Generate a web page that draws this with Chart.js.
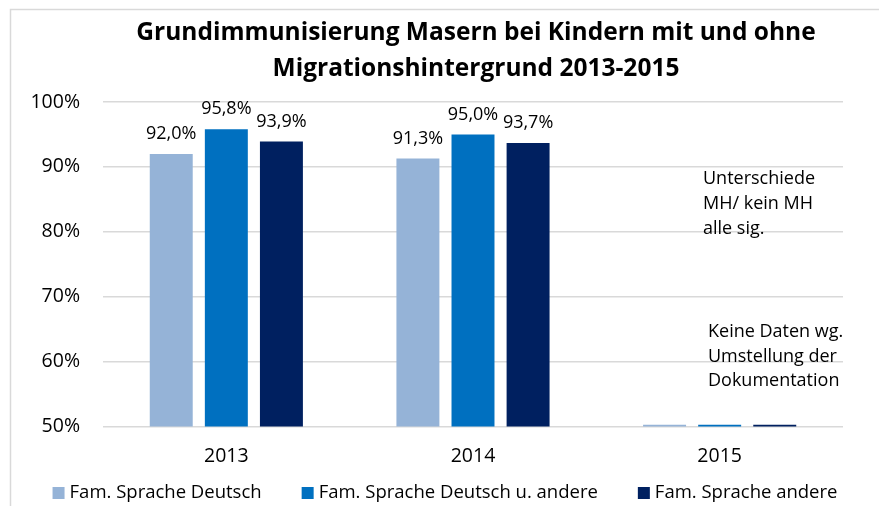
<!DOCTYPE html>
<html><head><meta charset="utf-8">
<script src="https://cdn.jsdelivr.net/npm/chart.js@4"></script>
<style>html,body{margin:0;padding:0;background:#fff}#wrap{width:879px;height:506px;position:relative}</style>
</head><body><div id="wrap"><canvas id="c" width="879" height="506"></canvas></div>
<script>
const categories = ["2013", "2014", "2015"];
const seriesNames = ["Fam. Sprache Deutsch", "Fam. Sprache Deutsch u. andere", "Fam. Sprache andere"];
const famDeutsch = [92.0, 91.3, 50.3];
const famDeutschAndere = [95.8, 95.0, 50.3];
const famAndere = [93.9, 93.7, 50.3];
const showLabel = [true, true, false];
const yTicks = [50, 60, 70, 80, 90, 100];
const colors = ["#95B3D7", "#0070C0", "#002060"];
const titleLines = ["Grundimmunisierung Masern bei Kindern mit und ohne", "Migrationshintergrund 2013-2015"];
const note1 = ["Unterschiede", "MH/ kein MH", "alle sig."];
const note2 = ["Keine Daten wg.", "Umstellung der", "Dokumentation"];
const FONT = "'Open Sans', 'Noto Sans', sans-serif";

const fmt = v => v.toFixed(1).replace('.', ',') + '%';

const deco = {
  id: 'deco',
  beforeDraw(chart) {
    const ctx = chart.ctx;
    ctx.save();
    ctx.fillStyle = '#fff';
    ctx.fillRect(0, 0, chart.width, chart.height);
    ctx.strokeStyle = '#D9D9D9';
    ctx.lineWidth = 1.5;
    ctx.beginPath();
    ctx.moveTo(10.5, 520); ctx.lineTo(10.5, 9.5); ctx.lineTo(890, 9.5);
    ctx.stroke();
    ctx.restore();
  },
  afterDraw(chart) {
    const ctx = chart.ctx;
    ctx.save();
    // title
    ctx.fillStyle = '#000';
    ctx.font = "bold 24.5px " + FONT;
    ctx.textAlign = 'center';
    ctx.textBaseline = 'middle';
    ctx.fillText(titleLines[0], 476, 33);
    ctx.fillText(titleLines[1], 476, 69);
    // data labels
    ctx.font = "18px " + FONT;
    ctx.textBaseline = 'bottom';
    chart.data.datasets.forEach((ds, di) => {
      const meta = chart.getDatasetMeta(di);
      meta.data.forEach((bar, i) => {
        if (!showLabel[i]) return;
        ctx.fillText(fmt(ds.data[i]), bar.x, bar.y - 11);
      });
    });
    // notes
    ctx.textAlign = 'left';
    ctx.textBaseline = 'middle';
    ctx.font = "18px " + FONT;
    note1.forEach((t, k) => ctx.fillText(t, 703, 179 + k * 25));
    note2.forEach((t, k) => ctx.fillText(t, 708, 332 + k * 24.5));
    // legend
    ctx.font = "18.5px " + FONT;
    const box = 12, gapT = 5, gapI = 40;
    const widths = seriesNames.map(n => ctx.measureText(n).width);
    const total = widths.reduce((a, w) => a + box + gapT + w, 0) + gapI * (seriesNames.length - 1);
    let x = 445 - total / 2;
    const ly = 493;
    seriesNames.forEach((n, i) => {
      ctx.fillStyle = colors[i];
      ctx.fillRect(x, ly - box / 2, box, box);
      ctx.fillStyle = '#000';
      ctx.fillText(n, x + box + gapT, ly);
      x += box + gapT + widths[i] + gapI;
    });
    ctx.restore();
  }
};

new Chart(document.getElementById('c'), {
  type: 'bar',
  data: {
    labels: categories,
    datasets: [famDeutsch, famDeutschAndere, famAndere].map((d, i) => ({
      label: seriesNames[i],
      data: d,
      backgroundColor: colors[i],
      borderWidth: 0,
      categoryPercentage: 0.67,
      barPercentage: 0.78
    }))
  },
  options: {
    responsive: false,
    animation: false,
    layout: { padding: { top: 102, left: 0, right: 36, bottom: 28 } },
    plugins: {
      title: { display: false },
      tooltip: { enabled: false },
      legend: { display: false }
    },
    scales: {
      x: {
        grid: { display: false },
        border: { display: false },
        ticks: { color: '#000', font: { family: FONT, size: 19.5 }, padding: 10 }
      },
      y: {
        min: 50, max: 100,
        afterBuildTicks(ax) { ax.ticks = yTicks.map(v => ({ value: v })); },
        afterFit(ax) { ax.width = 103; },
        grid: { color: '#D9D9D9', lineWidth: 1.5, drawTicks: false },
        border: { display: false },
        ticks: { color: '#000', font: { family: FONT, size: 19.5 }, padding: 23, callback: v => v + '%' }
      }
    }
  },
  plugins: [deco]
});
</script></body></html>
